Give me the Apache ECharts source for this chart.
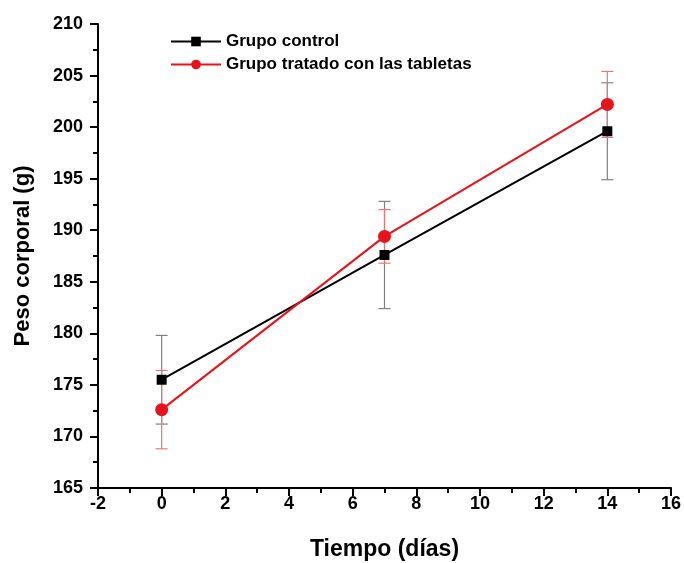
<!DOCTYPE html>
<html>
<head>
<meta charset="utf-8">
<script src="https://cdn.jsdelivr.net/npm/echarts@6/dist/echarts.min.js"></script>
<style>html,body{margin:0;padding:0;background:#fff}#c{width:684px;height:563px}</style>
</head>
<body>
<div id="c"></div>
<script>
const days = [0, 7, 14];
const controlMean = [175.5, 187.6, 199.6];
const controlSD = [4.3, 5.2, 4.7];
const treatedMean = [172.6, 189.4, 202.2];
const treatedSD = [3.8, 2.6, 3.2];
const seriesNames = ['Grupo control', 'Grupo tratado con las tabletas'];
const xTitle = 'Tiempo (días)';
const yTitle = 'Peso corporal (g)';

const FONT = '"Liberation Sans", Arial, sans-serif';
const chart = echarts.init(document.getElementById('c'));

function errData(mean, sd) {
  return days.map((d, i) => [d, mean[i] - sd[i], mean[i] + sd[i]]);
}
function errRender(color) {
  return function (params, api) {
    const x = api.value(0);
    const lo = api.coord([x, api.value(1)]);
    const hi = api.coord([x, api.value(2)]);
    const w = 6;
    const style = { stroke: color, lineWidth: 1.2 };
    return {
      type: 'group',
      children: [
        { type: 'line', shape: { x1: lo[0], y1: lo[1], x2: hi[0], y2: hi[1] }, style },
        { type: 'line', shape: { x1: lo[0] - w, y1: lo[1], x2: lo[0] + w, y2: lo[1] }, style },
        { type: 'line', shape: { x1: hi[0] - w, y1: hi[1], x2: hi[0] + w, y2: hi[1] }, style }
      ]
    };
  };
}

const axisCommon = {
  axisLine: { show: true, onZero: false, lineStyle: { color: '#000', width: 2 } },
  axisTick: { show: true, inside: false, length: 8, lineStyle: { color: '#000', width: 2 } },
  minorTick: { show: true, splitNumber: 2, length: 5, lineStyle: { color: '#000', width: 2 } },
  splitLine: { show: false },
  axisLabel: { color: '#000', fontSize: 18, fontWeight: 'bold', fontFamily: FONT },
  nameTextStyle: { color: '#000', fontSize: 22, fontWeight: 'bold', fontFamily: FONT }
};

chart.setOption({
  animation: false,
  backgroundColor: '#fff',
  grid: { left: 98, right: 13, top: 24, bottom: 75, containLabel: false, outerBoundsMode: 'none' },
  legend: {
    orient: 'vertical',
    left: 165,
    top: 28,
    itemWidth: 50,
    itemHeight: 12,
    itemGap: 6,
    textStyle: { color: '#000', fontSize: 17, fontWeight: 'bold', fontFamily: FONT },
    data: seriesNames
  },
  xAxis: Object.assign({}, axisCommon, {
    type: 'value', min: -2, max: 16, interval: 2,
    name: xTitle, nameLocation: 'middle', nameGap: 50,
    nameTextStyle: Object.assign({}, axisCommon.nameTextStyle, { fontSize: 23 }),
    axisLabel: Object.assign({}, axisCommon.axisLabel, { margin: 7 })
  }),
  yAxis: Object.assign({}, axisCommon, {
    type: 'value', min: 165, max: 210, interval: 5,
    name: yTitle, nameLocation: 'middle', nameGap: 64,
    axisLabel: Object.assign({}, axisCommon.axisLabel, { margin: 15 })
  }),
  series: [
    {
      type: 'custom', name: 'err-control', renderItem: errRender('#808080'),
      data: errData(controlMean, controlSD), z: 1, silent: true,
      encode: { x: 0, y: [1, 2] }
    },
    {
      type: 'custom', name: 'err-treated', renderItem: errRender('#e37a7a'),
      data: errData(treatedMean, treatedSD), z: 1, silent: true,
      encode: { x: 0, y: [1, 2] }
    },
    {
      type: 'line', name: seriesNames[0],
      data: days.map((d, i) => [d, controlMean[i]]),
      symbol: 'rect', symbolSize: 10,
      lineStyle: { color: '#000', width: 2 },
      itemStyle: { color: '#000' }, z: 3
    },
    {
      type: 'line', name: seriesNames[1],
      data: days.map((d, i) => [d, treatedMean[i]]),
      symbol: 'circle', symbolSize: 13,
      lineStyle: { color: '#e8121a', width: 2 },
      itemStyle: { color: '#e8121a' }, z: 4
    }
  ]
});
</script>
</body>
</html>
